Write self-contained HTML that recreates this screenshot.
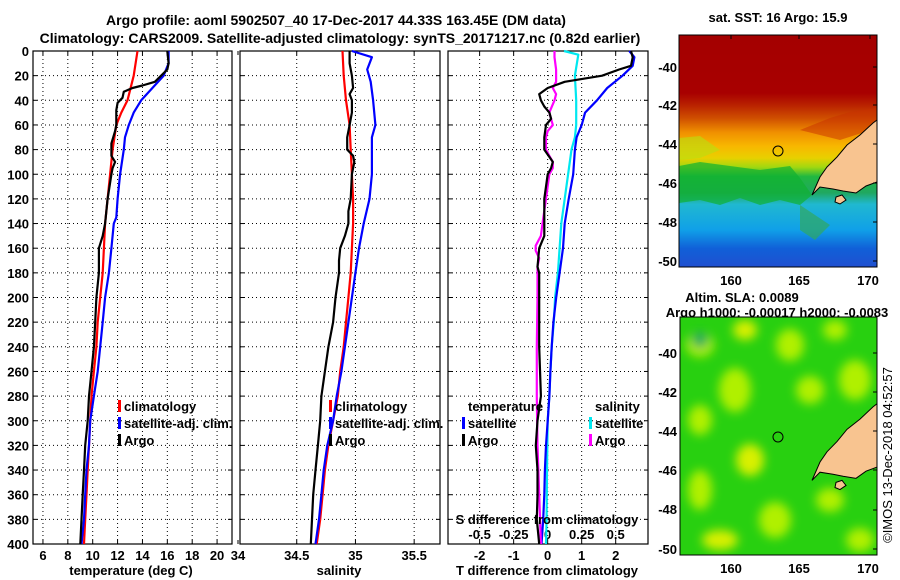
<!DOCTYPE html>
<html><head><meta charset="utf-8">
<style>
body{margin:0;background:#fff;}
svg{display:block;font-family:"Liberation Sans",sans-serif;}
.b{font-weight:bold;font-size:13px;}
</style></head>
<body>
<svg id="c" width="900" height="580" viewBox="0 0 900 580" xmlns="http://www.w3.org/2000/svg">
<g id="root"></g>
</svg>
<script>
// ---- data: temperature panel
const tDepthClim=[0,20,40,50,60,80,100,120,140,160,180,200,220,240,260,280,300,320,340,360,380,400];
const tClim=[13.6,13.3,12.8,12.3,11.9,11.6,11.4,11.2,11.0,10.9,10.8,10.6,10.4,10.3,10.1,9.9,9.8,9.7,9.6,9.5,9.4,9.3];
const tDepthSat=[0,10,20,30,40,50,60,70,80,100,120,135,140,160,180,200,220,240,260,280,300,320,340,360,380,400];
const tSat=[16.1,16.1,15.7,14.8,13.9,13.3,12.9,12.6,12.5,12.2,12.0,11.9,11.7,11.5,11.3,11.0,10.8,10.6,10.4,10.1,9.8,9.7,9.5,9.4,9.3,9.1];
const tDepthArgo=[0,10,15,20,25,28,30,33,38,42,48,60,65,75,85,90,95,100,120,140,150,160,180,200,220,240,260,280,300,320,340,360,380,400];
const tArgo=[16.0,16.1,16.0,15.5,15.0,14.0,13.2,12.5,12.4,12.0,11.9,11.9,11.8,11.5,11.5,11.8,11.6,11.5,11.2,11.0,10.8,10.5,10.5,10.3,10.2,10.1,9.9,9.7,9.6,9.4,9.3,9.2,9.1,9.0];
// ---- data: salinity panel
const sDepthClim=[0,20,40,60,80,100,120,140,160,180,200,220,240,260,280,300,320,340,360,380,400];
const sClim=[34.89,34.90,34.92,34.95,34.96,34.97,34.98,34.98,34.97,34.96,34.94,34.92,34.90,34.87,34.85,34.81,34.77,34.74,34.72,34.70,34.67];
const sDepthSat=[0,5,15,25,40,60,70,100,120,140,160,180,200,220,240,260,280,300,320,340,360,380,400];
const sSat=[34.97,35.14,35.10,35.13,35.15,35.17,35.14,35.14,35.12,35.07,35.03,35.00,34.97,34.94,34.91,34.88,34.84,34.81,34.76,34.73,34.71,34.69,34.66];
const sDepthArgo=[0,10,20,30,35,40,50,60,70,80,85,90,100,120,130,140,150,160,170,180,200,220,240,260,280,300,320,340,360,380,400];
const sArgo=[34.95,34.95,34.97,34.98,34.95,34.97,34.97,34.95,34.93,34.93,34.98,34.99,34.97,34.96,34.94,34.94,34.91,34.87,34.86,34.86,34.83,34.81,34.77,34.74,34.71,34.70,34.68,34.66,34.64,34.63,34.62];
// ---- data: difference panel (T in deg C, S in psu)
const dDepthTSat=[0,5,12,20,30,40,50,60,70,80,100,120,140,160,180,200,220,240,260,280,300,320,340,360,380,400];
const dTSat=[2.4,2.55,2.5,2.2,1.75,1.45,1.1,1.0,0.85,0.8,0.75,0.62,0.5,0.45,0.35,0.25,0.17,0.12,0.08,0.05,0.0,-0.05,-0.08,-0.1,-0.13,-0.18];
const dDepthTArgo=[0,5,12,15,20,25,30,35,40,45,50,55,60,70,80,90,95,100,120,140,150,160,170,175,180,200,240,280,300,320,340,360,380,400];
const dTArgo=[2.45,2.5,2.45,2.1,1.6,0.5,0.0,-0.25,-0.2,-0.1,0.05,0.1,-0.05,-0.1,-0.1,0.15,0.1,0.0,-0.1,-0.1,-0.1,-0.25,-0.28,-0.3,-0.25,-0.25,-0.25,-0.2,-0.3,-0.35,-0.3,-0.3,-0.32,-0.25];
const dDepthSSat=[0,3,20,40,60,70,80,100,120,140,160,180,200,220,240,260,280,300,340,380,400];
const dSSat=[0.12,0.225,0.2,0.21,0.21,0.2,0.175,0.15,0.125,0.1,0.088,0.075,0.055,0.045,0.03,0.02,0.012,0.0,-0.005,-0.008,-0.012];
const dDepthSArgo=[0,5,15,25,30,35,40,50,60,65,70,80,85,90,95,100,120,140,150,158,162,168,175,200,240,280,320,360,400];
const dSArgo=[0.05,0.05,0.062,0.062,0.038,0.062,0.05,0.012,0.038,0.0,-0.012,-0.012,0.012,0.038,0.038,0.012,-0.012,-0.038,-0.05,-0.088,-0.088,-0.062,-0.075,-0.075,-0.08,-0.08,-0.075,-0.062,-0.05];
const depthTicks=[0,20,40,60,80,100,120,140,160,180,200,220,240,260,280,300,320,340,360,380,400];
const tTicks=[6,8,10,12,14,16,18,20];
const sTicks=[34,34.5,35,35.5];
const dTicks=[-2,-1,0,1,2];
const dSTickLabels=["-0.5","-0.25","0","0.25","0.5"];
const dSTicks=[-0.5,-0.25,0,0.25,0.5];

const NS="http://www.w3.org/2000/svg";
const root=document.getElementById('root');
function el(tag,attrs,parent,text){const e=document.createElementNS(NS,tag);for(const k in attrs)e.setAttribute(k,attrs[k]);if(text!==undefined)e.textContent=text;(parent||root).appendChild(e);return e;}
const TOP=51,BOT=544;
const yD=d=>TOP+(d/400)*(BOT-TOP);
function lin(d0,d1,p0,p1){return v=>p0+(v-d0)/(d1-d0)*(p1-p0);}
const P=[
 {x0:33,x1:232,sx:lin(5.2,21.2,33,232),ticks:tTicks,name:'temperature-panel'},
 {x0:240,x1:440,sx:lin(34.017,35.72,240,440),ticks:sTicks,name:'salinity-panel'},
 {x0:448,x1:648,sx:lin(-2.93,2.95,448,648),ticks:dTicks,name:'difference-panel'}
];
P.forEach((p,i)=>{
 const g=el('g',{});
 
 
 p.ticks.forEach(t=>{const x=p.sx(t);if(x>p.x0+1&&x<p.x1-1)el('line',{x1:x,x2:x,y1:TOP,y2:BOT,stroke:'#000','stroke-width':1,'stroke-dasharray':'1,3'},g);
   el('line',{x1:x,x2:x,y1:BOT,y2:BOT-4,stroke:'#000'},g);el('line',{x1:x,x2:x,y1:TOP,y2:TOP+4,stroke:'#000'},g);});
 depthTicks.forEach(d=>{const y=yD(d);if(d>0&&d<400)el('line',{x1:p.x0,x2:p.x1,y1:y,y2:y,stroke:'#000','stroke-dasharray':'1,3'},g);
   el('line',{x1:p.x0,x2:p.x0+4,y1:y,y2:y,stroke:'#000'},g);el('line',{x1:p.x1-4,x2:p.x1,y1:y,y2:y,stroke:'#000'},g);});
 el('rect',{x:p.x0,y:TOP,width:p.x1-p.x0,height:BOT-TOP,fill:'none',stroke:'#000','stroke-width':1.2},g);
});
depthTicks.forEach(d=>{const t=el('text',{x:29,y:yD(d)+5,'text-anchor':'end',class:'b'},root,String(d));
 
 });
[[0,tTicks],[1,sTicks],[2,dTicks]].forEach(([i,ts])=>{ts.forEach(v=>{
 const t=el('text',{x:P[i].sx(v),y:560,'text-anchor':'middle',class:'b'},root,String(v));
 
 });});
const dS=v=>P[2].sx(v*4);
dSTicks.forEach((v,k)=>{const t=el('text',{x:dS(v),y:539,'text-anchor':'middle',class:'b'},root,dSTickLabels[k]);
 
 });
function series(depths,vals,sx,color,name){
 const pts=depths.map((d,k)=>sx(vals[k]).toFixed(1)+','+yD(d).toFixed(1)).join(' ');
 const l=el('polyline',{points:pts,fill:'none',stroke:color,'stroke-width':2.2,'stroke-linejoin':'round'});
 
 
}
series(tDepthClim,tClim,P[0].sx,'#ff0000','temp-climatology-line');
series(tDepthSat,tSat,P[0].sx,'#0000ff','temp-satellite-line');
series(tDepthArgo,tArgo,P[0].sx,'#000','temp-argo-line');
series(sDepthClim,sClim,P[1].sx,'#ff0000','sal-climatology-line');
series(sDepthSat,sSat,P[1].sx,'#0000ff','sal-satellite-line');
series(sDepthArgo,sArgo,P[1].sx,'#000','sal-argo-line');
series(dDepthSSat,dSSat,dS,'#00e8f0','sdiff-satellite-line');
series(dDepthTSat,dTSat,P[2].sx,'#0000ff','tdiff-satellite-line');
series(dDepthSArgo,dSArgo,dS,'#ff00ff','sdiff-argo-line');
series(dDepthTArgo,dTArgo,P[2].sx,'#000','tdiff-argo-line');
function leg(x,y,color,label,name){
 const g=el('g',{});
 
 
 if(color)el('rect',{x:x-6,y:y-11,width:3,height:12,fill:color},g);
 el('text',{x:x,y:y,class:'b'},g,label);
}
leg(124,411,'#ff0000','climatology','legend-climatology');
leg(124,428,'#0000ff','satellite-adj. clim.','legend-satellite-adj');
leg(124,445,'#000','Argo','legend-argo');
leg(335,411,'#ff0000','climatology','legend-sal-climatology');
leg(335,428,'#0000ff','satellite-adj. clim.','legend-sal-satellite-adj');
leg(335,445,'#000','Argo','legend-sal-argo');
leg(468,411,null,'temperature','legend-temperature-heading');
leg(468,428,'#0000ff','satellite','legend-tdiff-satellite');
leg(468,445,'#000','Argo','legend-tdiff-argo');
leg(595,411,null,'salinity','legend-salinity-heading');
leg(595,428,'#00e8f0','satellite','legend-sdiff-satellite');
leg(595,445,'#ff00ff','Argo','legend-sdiff-argo');
</script>
<svg style="position:absolute;left:0;top:0" width="900" height="580" xmlns="http://www.w3.org/2000/svg" font-family="Liberation Sans, sans-serif">
<defs>
<linearGradient id="sst" gradientUnits="userSpaceOnUse" x1="0" y1="35" x2="0" y2="267">
<stop offset="0" stop-color="#a40000"/><stop offset="0.25" stop-color="#a80000"/>
<stop offset="0.30" stop-color="#b82000"/><stop offset="0.36" stop-color="#d05000"/>
<stop offset="0.42" stop-color="#f09000"/><stop offset="0.48" stop-color="#f8b800"/>
<stop offset="0.53" stop-color="#e8d000"/><stop offset="0.57" stop-color="#a0d810"/>
<stop offset="0.61" stop-color="#20b840"/><stop offset="0.68" stop-color="#20a860"/>
<stop offset="0.73" stop-color="#20b8d0"/><stop offset="0.84" stop-color="#10a0e8"/>
<stop offset="0.92" stop-color="#1060d8"/><stop offset="1" stop-color="#2050d0"/>
</linearGradient>
<filter id="bl"><feGaussianBlur stdDeviation="5"/></filter>
<clipPath id="m1"><rect x="679" y="35" width="198" height="232"/></clipPath>
<clipPath id="m2"><rect x="680" y="317" width="197" height="238"/></clipPath>
</defs>
<g font-weight="bold" font-size="14">
<text x="336" y="25" text-anchor="middle">Argo profile: aoml 5902507_40 17-Dec-2017 44.33S 163.45E (DM data)</text>
<text x="340" y="43" text-anchor="middle">Climatology: CARS2009. Satellite-adjusted climatology: synTS_20171217.nc (0.82d earlier)</text>
</g>
<g font-weight="bold" font-size="13">
<text x="131" y="575" text-anchor="middle">temperature (deg C)</text>
<text x="339" y="575" text-anchor="middle">salinity</text>
<text x="547" y="575" text-anchor="middle">T difference from climatology</text>
<text x="547" y="524" text-anchor="middle">S difference from climatology</text>
<text x="778" y="22" text-anchor="middle">sat. SST: 16 Argo: 15.9</text>
<text x="742" y="302" text-anchor="middle">Altim. SLA: 0.0089</text>
<text x="777" y="317" text-anchor="middle">Argo h1000: -0.00017 h2000: -0.0083</text>
</g>
<g clip-path="url(#m1)">
<rect x="679" y="35" width="198" height="232" fill="url(#sst)"/>
<path d="M679,166 L700,162 L730,166 L760,170 L790,166 L800,178 L812,195 L800,205 L780,200 L760,205 L740,198 L720,205 L700,200 L679,203 Z" fill="#10b030" opacity="0.7"/>
<path d="M679,138 L700,136 L720,150 L700,158 L679,160 Z" fill="#b8e010" opacity="0.6"/>
<path d="M800,205 L815,215 L830,225 L815,240 L800,230 Z" fill="#30a860" opacity="0.7"/>
<path d="M800,130 L830,118 L850,112 L877,108 L877,128 L840,140 Z" fill="#c83000" opacity="0.5"/>
<g id="coast1">
<path d="M877,120 L873,123 L860,135 L847,145 L837,157 L827,167 L820,177 L812,195 L820,187 L833,189 L843,191 L856,193 L866,186 L877,182 Z" fill="#f8c490" stroke="#000" stroke-width="1"/>
<path d="M836,197 L842,195 L846,200 L840,204 L835,202 Z" fill="#f8c490" stroke="#000" stroke-width="1"/>
</g>
<circle cx="778" cy="151" r="5" fill="none" stroke="#000" stroke-width="1"/>
</g>
<rect x="679" y="35" width="198" height="232" fill="none" stroke="#000"/>
<g clip-path="url(#m2)">
<rect x="680" y="317" width="197" height="238" fill="#28d010"/>
<g filter="url(#bl)" fill="#b0f000">
<ellipse cx="700" cy="345" rx="14" ry="12"/><ellipse cx="745" cy="330" rx="12" ry="10" fill="#d8f000"/>
<ellipse cx="790" cy="345" rx="14" ry="16"/><ellipse cx="835" cy="330" rx="12" ry="10"/>
<ellipse cx="735" cy="390" rx="16" ry="22"/><ellipse cx="700" cy="420" rx="12" ry="15"/>
<ellipse cx="810" cy="390" rx="14" ry="14"/><ellipse cx="855" cy="380" rx="16" ry="20"/>
<ellipse cx="750" cy="460" rx="14" ry="16" fill="#d8f000"/><ellipse cx="700" cy="490" rx="12" ry="20"/>
<ellipse cx="775" cy="520" rx="16" ry="18"/><ellipse cx="830" cy="500" rx="14" ry="12"/>
<ellipse cx="720" cy="540" rx="18" ry="10" fill="#d8f000"/><ellipse cx="860" cy="540" rx="14" ry="12"/>
<ellipse cx="700" cy="340" rx="8" ry="8" fill="#10a860"/>
</g>
<use href="#coast1" transform="translate(0,317) scale(1,1.021) translate(0,-35)"/>
<circle cx="778" cy="437" r="5" fill="none" stroke="#000" stroke-width="1"/>
</g>
<rect x="680" y="317" width="197" height="238" fill="none" stroke="#000"/>
<g stroke="#000">
<line x1="873" x2="877" y1="67" y2="67"/><line x1="873" x2="877" y1="105" y2="105"/><line x1="873" x2="877" y1="144" y2="144"/><line x1="873" x2="877" y1="183" y2="183"/><line x1="873" x2="877" y1="222" y2="222"/><line x1="873" x2="877" y1="261" y2="261"/>
<line x1="873" x2="877" y1="353" y2="353"/><line x1="873" x2="877" y1="392" y2="392"/><line x1="873" x2="877" y1="431" y2="431"/><line x1="873" x2="877" y1="470" y2="470"/><line x1="873" x2="877" y1="510" y2="510"/><line x1="873" x2="877" y1="549" y2="549"/>
<line x1="731" x2="731" y1="35" y2="39"/><line x1="799" x2="799" y1="35" y2="39"/><line x1="870" x2="870" y1="35" y2="39"/>
</g>
<g font-weight="bold" font-size="13" text-anchor="end">
<text x="677" y="72">-40</text><text x="677" y="110">-42</text><text x="677" y="149">-44</text><text x="677" y="188">-46</text><text x="677" y="227">-48</text><text x="677" y="266">-50</text>
<text x="677" y="358">-40</text><text x="677" y="397">-42</text><text x="677" y="436">-44</text><text x="677" y="475">-46</text><text x="677" y="514">-48</text><text x="677" y="554">-50</text>
</g>
<g font-weight="bold" font-size="13" text-anchor="middle">
<text x="731" y="285">160</text><text x="799" y="285">165</text><text x="868" y="285">170</text>
<text x="731" y="573">160</text><text x="799" y="573">165</text><text x="868" y="573">170</text>
</g>
<text transform="translate(892,455) rotate(-90)" text-anchor="middle" font-size="13">©IMOS 13-Dec-2018 04:52:57</text>
</svg>
</body></html>
